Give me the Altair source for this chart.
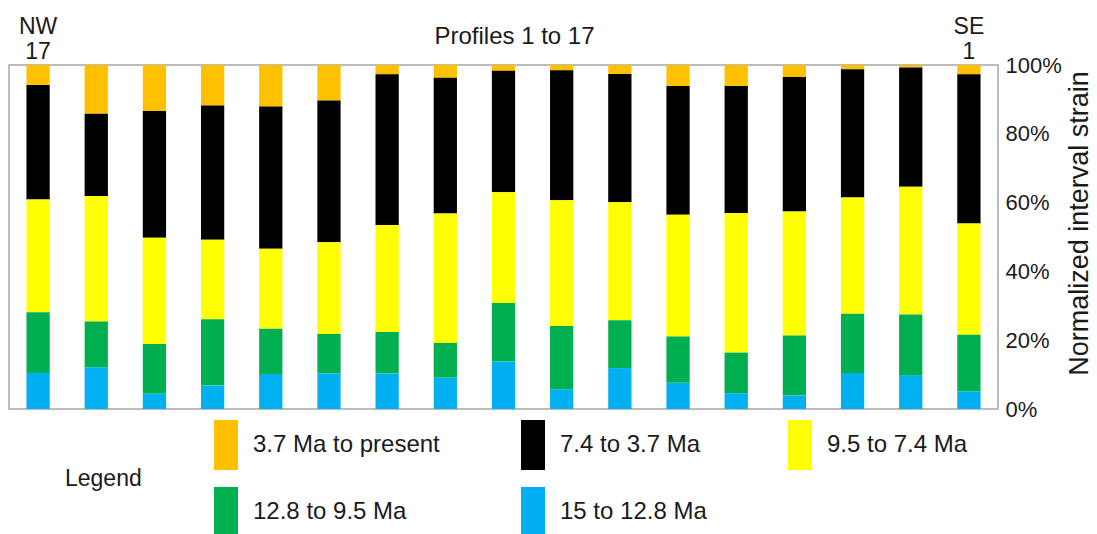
import altair as alt
import pandas as pd

# Profiles, left (NW) to right (SE)
profiles = [17, 16, 15, 14, 13, 12, 11, 10, 9, 8, 7, 6, 5, 4, 3, 2, 1]

intervals = ["3.7 Ma to present", "7.4 to 3.7 Ma", "9.5 to 7.4 Ma",
             "12.8 to 9.5 Ma", "15 to 12.8 Ma"]
colors = ["#FFC000", "#000000", "#FFFF00", "#00B050", "#00B0F0"]

# interval strain (% of total) per profile, left to right
s_37_present = [5.8, 14.2, 13.4, 11.8, 12.1, 10.3, 2.7, 3.7, 1.7, 1.5, 2.6, 6.1, 6.1, 3.5, 1.2, 0.7, 2.7]
s_74_37 = [33.3, 23.9, 36.8, 39.0, 41.3, 41.2, 43.8, 39.5, 35.3, 37.8, 37.3, 37.4, 36.9, 39.1, 37.3, 34.7, 43.4]
s_95_74 = [32.8, 36.5, 30.9, 23.1, 23.3, 26.7, 31.1, 37.6, 32.2, 36.6, 34.3, 35.4, 40.6, 36.0, 33.8, 37.1, 32.3]
s_128_95 = [17.6, 13.3, 14.5, 19.3, 13.1, 11.5, 12.1, 10.1, 17.0, 18.4, 13.9, 13.5, 11.8, 17.5, 17.2, 17.8, 16.5]
s_15_128 = [10.5, 12.1, 4.4, 6.8, 10.2, 10.3, 10.3, 9.1, 13.8, 5.7, 11.9, 7.6, 4.6, 3.9, 10.5, 9.7, 5.1]

series = [s_37_present, s_74_37, s_95_74, s_128_95, s_15_128]

rows = []
for k, (name, vals) in enumerate(zip(intervals, series)):
    for p, v in zip(profiles, vals):
        rows.append({"profile": p, "interval": name, "value": v, "order": 4 - k})
df = pd.DataFrame(rows)

FONT = "Liberation Sans"

chart = alt.Chart(df).mark_bar().encode(
    x=alt.X("profile:O", sort=profiles,
            scale=alt.Scale(paddingInner=0.6, paddingOuter=0.3),
            axis=alt.Axis(orient="top", title="Profiles 1 to 17", ticks=False, domain=False,
                          labelExpr="datum.value == 17 ? ['NW', '17'] : (datum.value == 1 ? ['SE', '1'] : '')",
                          labelAngle=0, labelFontSize=23, labelLineHeight=25, labelPadding=50,
                          labelBaseline="top",
                          labelOverlap=False, labelColor="#1a1a1a",
                          titleFontSize=24, titleFontWeight="normal", titleColor="#1a1a1a",
                          titleY=-22, titleBaseline="alphabetic", titleX=505)),
    y=alt.Y("value:Q", stack="normalize",
            scale=alt.Scale(domain=[0, 1], nice=False),
            axis=alt.Axis(orient="right", format=".0%", values=[0, 0.2, 0.4, 0.6, 0.8, 1.0],
                          ticks=False, domain=False, grid=False,
                          labelFontSize=22, labelPadding=7, labelColor="#1a1a1a",
                          title="Normalized interval strain", titleAngle=270,
                          titleFontSize=27, titleFontWeight="normal", titleColor="#1a1a1a",
                          titlePadding=32, titleY=158)),
    color=alt.Color("interval:N",
                    scale=alt.Scale(domain=intervals, range=colors),
                    legend=alt.Legend(orient="none", legendX=56, legendY=355,
                                      direction="horizontal", columns=3,
                                      title="Legend", titleOrient="left", titleAnchor="middle",
                                      titleBaseline="middle",
                                      titleFontSize=23, titleFontWeight="normal", titleColor="#1a1a1a",
                                      titlePadding=59, padding=0,
                                      labelFontSize=24, labelColor="#1a1a1a", labelLimit=400,
                                      labelOffset=2,
                                      symbolType="M-0.48,-1H0.48V1H-0.48Z", symbolSize=2500,
                                      symbolStrokeWidth=0, symbolOpacity=1,
                                      rowPadding=17, columnPadding=68)),
    order=alt.Order("order:Q", sort="ascending"),
).properties(
    width=989, height=344,
    autosize=alt.AutoSizeParams(type="none"),
    padding={"left": 9, "top": 65, "right": 99, "bottom": 125},
).configure(font=FONT).configure_view(stroke="#a6a6a6", strokeWidth=1.5)

chart.save("out.html", embed_options={"renderer": "svg", "actions": False})
